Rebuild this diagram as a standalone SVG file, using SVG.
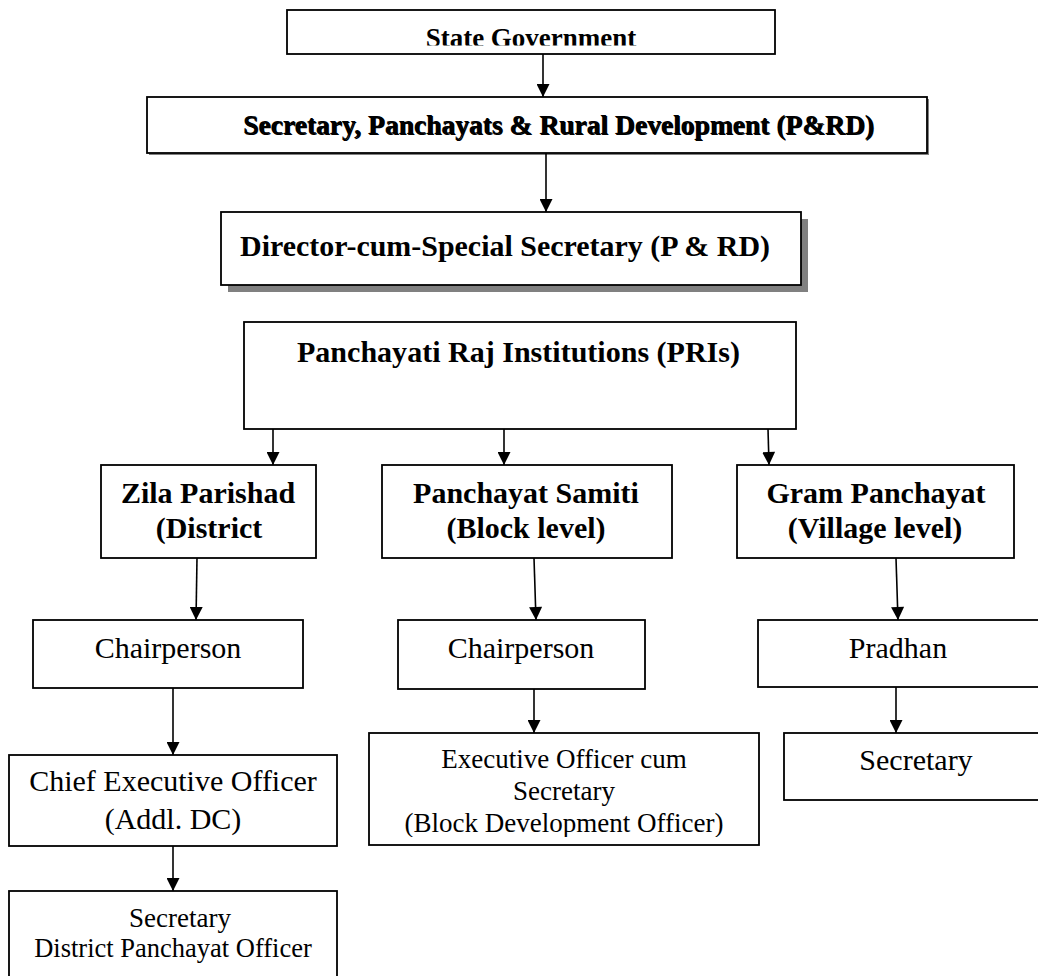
<svg xmlns="http://www.w3.org/2000/svg" width="1038" height="976" viewBox="0 0 1038 976">
<style>
.box{fill:#fff;stroke:#000;stroke-width:1.8}
.shadow{fill:#808080}
.b{font-family:"Liberation Serif","Times New Roman",serif;font-weight:bold;fill:#000}
.r{font-family:"Liberation Serif","Times New Roman",serif;fill:#000}
.conn line{stroke:#000;stroke-width:1.6;marker-end:url(#arr)}
</style>
<defs>
<marker id="arr" viewBox="0 0 14 14" refX="14" refY="7" markerWidth="14" markerHeight="13" markerUnits="userSpaceOnUse" orient="auto">
<path d="M0,0 L14,7 L0,14 z" fill="#000"/>
</marker>
<clipPath id="clipState"><rect x="280" y="0" width="500" height="45.5"/></clipPath>
<clipPath id="clipExec"><rect x="360" y="720" width="410" height="117"/></clipPath>
</defs>
<rect width="1038" height="976" fill="#fff"/>

<g id="state-government">
<rect class="box" x="287" y="10" width="488" height="44"/>
<text class="b" x="531" y="47" font-size="27" text-anchor="middle" clip-path="url(#clipState)">State Government</text>
</g>

<g id="secretary-prd">
<rect class="shadow" x="149" y="99" width="780" height="56"/>
<rect class="box" x="147" y="97" width="780" height="56"/>
<text class="b" x="244" y="135" font-size="27" fill="#999" textLength="631" lengthAdjust="spacingAndGlyphs">Secretary, Panchayats &amp; Rural Development (P&amp;RD)</text>
<text class="b" x="243" y="134" font-size="27" textLength="631" lengthAdjust="spacingAndGlyphs">Secretary, Panchayats &amp; Rural Development (P&amp;RD)</text>
</g>

<g id="director">
<rect class="shadow" x="228" y="219" width="580" height="73"/>
<rect class="box" x="221" y="212" width="580" height="73"/>
<text class="b" x="240" y="256" font-size="30" textLength="530" lengthAdjust="spacingAndGlyphs">Director-cum-Special Secretary (P &amp; RD)</text>
</g>

<g id="pris">
<rect class="box" x="244" y="322" width="552" height="107"/>
<text class="b" x="297" y="362" font-size="30" textLength="443" lengthAdjust="spacingAndGlyphs">Panchayati Raj Institutions (PRIs)</text>
</g>

<g id="zila-parishad">
<rect class="box" x="101" y="465" width="215" height="93"/>
<text class="b" x="208" y="503" font-size="30" text-anchor="middle">Zila Parishad</text>
<text class="b" x="209" y="538" font-size="30" text-anchor="middle">(District</text>
</g>

<g id="panchayat-samiti">
<rect class="box" x="382" y="465" width="290" height="93"/>
<text class="b" x="526" y="503" font-size="30" text-anchor="middle">Panchayat Samiti</text>
<text class="b" x="526" y="538" font-size="30" text-anchor="middle">(Block level)</text>
</g>

<g id="gram-panchayat">
<rect class="box" x="737" y="465" width="277" height="93"/>
<text class="b" x="876" y="503" font-size="30" text-anchor="middle">Gram Panchayat</text>
<text class="b" x="875" y="538" font-size="30" text-anchor="middle">(Village level)</text>
</g>

<g id="zp-chairperson">
<rect class="box" x="33" y="620" width="270" height="68"/>
<text class="r" x="168" y="658" font-size="30" text-anchor="middle">Chairperson</text>
</g>

<g id="ps-chairperson">
<rect class="box" x="398" y="620" width="247" height="69"/>
<text class="r" x="521" y="658" font-size="30" text-anchor="middle">Chairperson</text>
</g>

<g id="pradhan">
<rect class="box" x="758" y="620" width="290" height="67"/>
<text class="r" x="898" y="658" font-size="30" text-anchor="middle">Pradhan</text>
</g>

<g id="ceo">
<rect class="box" x="9" y="755" width="328" height="91"/>
<text class="r" x="173" y="791" font-size="30" text-anchor="middle">Chief Executive Officer</text>
<text class="r" x="173" y="829" font-size="30" text-anchor="middle">(Addl. DC)</text>
</g>

<g id="executive-officer">
<rect class="box" x="369" y="733" width="390" height="112"/>
<text class="r" x="564" y="768" font-size="27" text-anchor="middle">Executive Officer cum</text>
<text class="r" x="564" y="800" font-size="27" text-anchor="middle">Secretary</text>
<text class="r" x="564" y="832" font-size="27" text-anchor="middle" clip-path="url(#clipExec)">(Block Development Officer)</text>
</g>

<g id="gp-secretary">
<rect class="box" x="784" y="733" width="270" height="67"/>
<text class="r" x="916" y="770" font-size="30" text-anchor="middle">Secretary</text>
</g>

<g id="dpo">
<rect class="box" x="9" y="891" width="328" height="100"/>
<text class="r" x="180" y="927" font-size="27" text-anchor="middle">Secretary</text>
<text class="r" x="173" y="957" font-size="26.5" text-anchor="middle">District Panchayat Officer</text>
</g>

<g id="connectors" class="conn">
<line x1="543" y1="54" x2="543" y2="97"/>
<line x1="546" y1="153" x2="546" y2="212"/>
<line x1="273" y1="429" x2="273" y2="465"/>
<line x1="504" y1="429" x2="504" y2="465"/>
<line x1="768" y1="429" x2="769" y2="465"/>
<line x1="197" y1="558" x2="196" y2="620"/>
<line x1="534" y1="558" x2="536" y2="620"/>
<line x1="896" y1="558" x2="898" y2="620"/>
<line x1="173" y1="688" x2="173" y2="755"/>
<line x1="534" y1="689" x2="534" y2="733"/>
<line x1="896" y1="687" x2="896" y2="733"/>
<line x1="173" y1="846" x2="173" y2="891"/>
</g>
</svg>
